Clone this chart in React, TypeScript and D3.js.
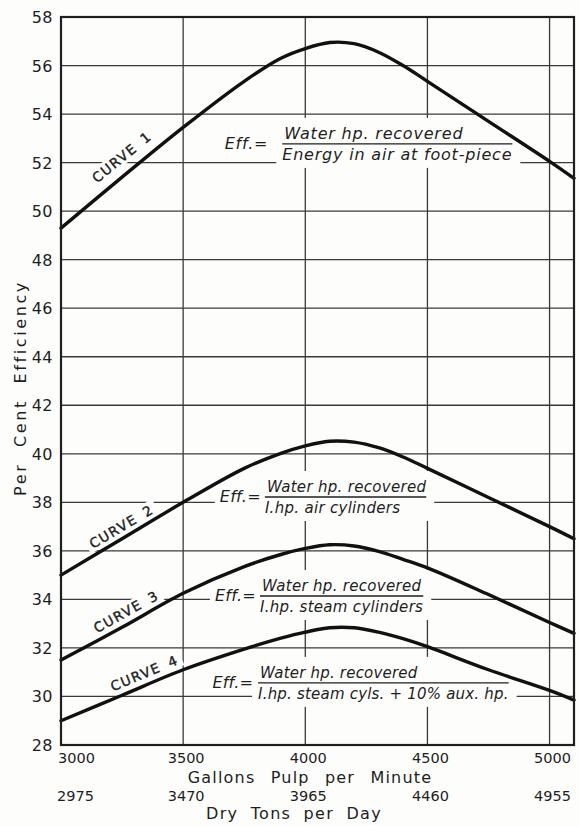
import React, { useEffect, useRef } from 'react';
import * as d3 from 'd3';

// gallons of pulp per minute where the curves were read
const gallonPts = [3000, 3250, 3500, 3750, 3900, 4000, 4100, 4200, 4300, 4400, 4500, 4750, 5000, 5100];

// per cent efficiency, one array per curve
const curve1 = [49.3, 51.4, 53.45, 55.35, 56.3, 56.7, 56.95, 56.9, 56.55, 56.0, 55.35, 53.7, 52.05, 51.35];
const curve2 = [35.0, 36.5, 38.0, 39.4, 40.02, 40.33, 40.52, 40.48, 40.25, 39.87, 39.4, 38.2, 37.0, 36.5];
const curve3 = [31.5, 32.85, 34.25, 35.35, 35.85, 36.1, 36.25, 36.2, 35.98, 35.65, 35.3, 34.2, 33.05, 32.6];
const curve4 = [29.0, 30.05, 31.1, 31.95, 32.4, 32.65, 32.83, 32.83, 32.65, 32.38, 32.05, 31.1, 30.25, 29.85];

const curveNames = ['CURVE 1', 'CURVE 2', 'CURVE 3', 'CURVE 4'];
const labelAt = [3290, 3270, 3290, 3360]; // gallons where "CURVE n" sits

const gallonTicks = [3000, 3500, 4000, 4500, 5000];
const tonLabels = ['2975', '3470', '3965', '4460', '4955'];
const effTicks = [28, 30, 32, 34, 36, 38, 40, 42, 44, 46, 48, 50, 52, 54, 56, 58];

const numerators = ['Water hp. recovered', 'Water hp. recovered', 'Water hp. recovered', 'Water hp. recovered'];
const denominators = ['Energy in air at foot-piece', 'I.hp. air cylinders', 'I.hp. steam cylinders', 'I.hp. steam cyls. + 10% aux. hp.'];
const formulaAt = [3670, 3650, 3630, 3620]; // gallons where "Eff.=" starts
const formulaEff = [52.77, 38.22, 34.14, 30.56]; // efficiency level of fraction bar

const W = 580, H = 826;
const ink = '#1e1e1e';
const paper = '#fdfdfc';
const font = '"DejaVu Sans", sans-serif';

const App = () => {
	const ref = useRef(null);

	useEffect(() => {
		const svg = d3.select(ref.current);
		svg.selectAll('*').remove();

		const x = d3.scaleLinear().domain([3000, 5100]).range([61, 574]);
		const y = d3.scaleLinear().domain([28, 58]).range([745, 17]);
		const series = [curve1, curve2, curve3, curve4];

		svg.append('rect').attr('width', W).attr('height', H).attr('fill', paper);

		// grid
		const grid = svg.append('g').attr('stroke', '#3a3a3a').attr('stroke-width', 1.3);
		effTicks.slice(1, -1).forEach(v => {
			grid.append('line').attr('x1', x(3000)).attr('x2', x(5100)).attr('y1', y(v)).attr('y2', y(v));
		});
		gallonTicks.slice(1).forEach(v => {
			grid.append('line').attr('x1', x(v)).attr('x2', x(v)).attr('y1', y(58)).attr('y2', y(28));
		});

		const masks = svg.append('g');
		const curves = svg.append('g');
		const labels = svg.append('g');

		svg.append('rect')
			.attr('x', x(3000)).attr('y', y(58))
			.attr('width', x(5100) - x(3000)).attr('height', y(28) - y(58))
			.attr('fill', 'none').attr('stroke', ink).attr('stroke-width', 2.2);

		const line = d3.line()
			.x((d, i) => x(gallonPts[i]))
			.y(d => y(d))
			.curve(d3.curveCatmullRom.alpha(0.5));

		series.forEach(s => {
			curves.append('path')
				.attr('d', line(s))
				.attr('fill', 'none')
				.attr('stroke', '#111')
				.attr('stroke-width', 3.4)
				.attr('stroke-linecap', 'round');
		});

		// curve names, rotated along the curve, with a white patch behind
		const interp = (s, g) => {
			const i = d3.bisectRight(gallonPts, g) - 1;
			const t = (g - gallonPts[i]) / (gallonPts[i + 1] - gallonPts[i]);
			return s[i] + t * (s[i + 1] - s[i]);
		};
		const lift = [11, 6, 7, 7];
		series.forEach((s, k) => {
			const g = labelAt[k];
			const px = x(g), py = y(interp(s, g));
			const ang = Math.atan2(y(interp(s, g + 50)) - y(interp(s, g - 50)), x(g + 50) - x(g - 50)) * 180 / Math.PI;
			const tr = `translate(${px},${py}) rotate(${ang}) translate(0,${-lift[k]})`;
			const t = labels.append('text')
				.attr('transform', tr)
				.attr('text-anchor', 'middle')
				.style('font-family', font)
				.style('font-size', '13.5px')
				.style('letter-spacing', '1.5px')
				.style('word-spacing', '3px')
				.attr('fill', ink)
				.attr('stroke', ink).attr('stroke-width', 0.4)
				.text(curveNames[k]);
			const w = t.node().getComputedTextLength();
			masks.append('rect')
				.attr('transform', tr)
				.attr('x', -w / 2 - 4).attr('y', -13)
				.attr('width', w + 8).attr('height', 16)
				.attr('fill', paper);
		});

		// efficiency formulas
		const gap = [14, 4, 4, 5];
		const fsize = [16, 15, 15, 15];
		const fspace = [0.8, 0.3, 0.3, 0.2];
		series.forEach((s, k) => {
			const ex = x(formulaAt[k]);
			const ly = y(formulaEff[k]);
			const f = labels.append('g')
				.style('font-family', font)
				.style('font-style', 'italic')
				.style('font-size', fsize[k] + 'px')
				.style('letter-spacing', fspace[k] + 'px')
				.attr('fill', ink);
			const eff = f.append('text').attr('x', ex).attr('y', ly + 5).style('font-size', '16px').text('Eff.=');
			const effLen = eff.node().getComputedTextLength();
			const fx = ex + effLen + gap[k];
			const num = f.append('text').attr('x', fx + 2).attr('y', ly - 5).text(numerators[k]);
			const den = f.append('text').attr('x', fx).attr('y', ly + 16).text(denominators[k]);
			const len = Math.max(num.node().getComputedTextLength() + 2, den.node().getComputedTextLength());
			f.append('line')
				.attr('x1', fx).attr('x2', fx + len)
				.attr('y1', ly).attr('y2', ly)
				.attr('stroke', ink).attr('stroke-width', 1.4);
			masks.append('rect')
				.attr('x', fx - 6).attr('y', ly - 26)
				.attr('width', len + 14).attr('height', 50)
				.attr('fill', paper);
			masks.append('rect')
				.attr('x', ex - 5).attr('y', ly - 9)
				.attr('width', effLen + 8).attr('height', 19)
				.attr('fill', paper);
		});

		// y ticks
		const axisText = svg.append('g').style('font-family', font).attr('fill', ink);
		effTicks.forEach(v => {
			axisText.append('text')
				.attr('x', 53).attr('y', y(v) + 6)
				.attr('text-anchor', 'end')
				.style('font-size', '16px')
				.style('letter-spacing', '0.5px')
				.text(v);
		});

		// x ticks, two rows
		gallonTicks.forEach((v, i) => {
			const first = i === 0;
			axisText.append('text')
				.attr('x', first ? x(v) - 3 : x(v) + 3).attr('y', 763)
				.attr('text-anchor', first ? 'start' : 'middle')
				.style('font-size', '14.5px')
				.text(v);
			axisText.append('text')
				.attr('x', first ? x(v) - 4 : x(v) + 3).attr('y', 801)
				.attr('text-anchor', first ? 'start' : 'middle')
				.style('font-size', '14.5px')
				.text(tonLabels[i]);
		});

		axisText.append('text')
			.attr('x', 310).attr('y', 783)
			.attr('text-anchor', 'middle')
			.style('font-size', '16px')
			.style('letter-spacing', '1.2px')
			.style('word-spacing', '9px')
			.text('Gallons Pulp per Minute');

		axisText.append('text')
			.attr('x', 294).attr('y', 819)
			.attr('text-anchor', 'middle')
			.style('font-size', '16px')
			.style('letter-spacing', '1.3px')
			.style('word-spacing', '6px')
			.text('Dry Tons per Day');

		axisText.append('text')
			.attr('transform', 'translate(26,388) rotate(-90)')
			.attr('text-anchor', 'middle')
			.style('font-size', '16px')
			.style('letter-spacing', '2.6px')
			.style('word-spacing', '8px')
			.text('Per Cent Efficiency');
	}, []);

	return (
		<svg ref={ref} width={W} height={H} style={{ position: 'absolute', left: 0, top: 0, display: 'block' }} />
	);
};

export default App;
